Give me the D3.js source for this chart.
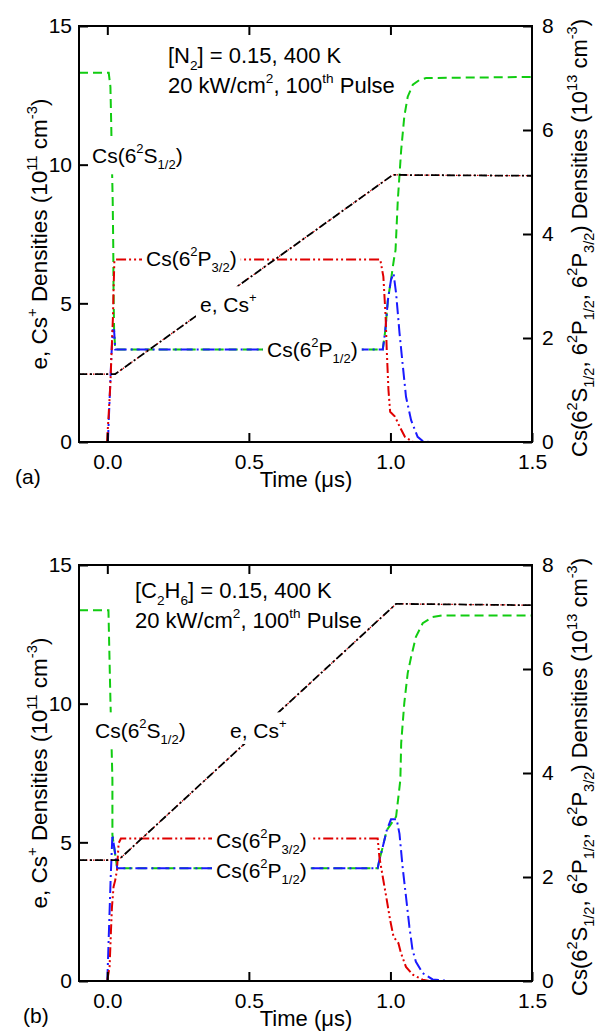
<!DOCTYPE html>
<html><head><meta charset="utf-8">
<script src="https://cdn.jsdelivr.net/npm/d3@7"></script>
<style>
html,body{margin:0;padding:0;background:#fff;}
svg text{font-family:"Liberation Sans",Arial,sans-serif;fill:#000;}
</style></head>
<body><svg id="c" width="597" height="1032"></svg>
<script>
// ---------------- data ----------------
const xTicks = [0, 0.5, 1.0, 1.5];
const leftTicks = [0, 5, 10, 15];
const rightTicks = [0, 2, 4, 6, 8];

// Panel (a): [N2]
// e, Cs+ density (left axis, 1e11 cm^-3): [time us, value]
const a_electron = [[-0.1,2.45],[0.028,2.45],[1.008,9.63],[1.5,9.6]];
// Cs densities (right axis, 1e13 cm^-3)
const a_S12 = [[-0.1,7.10],[0.005,7.10],[0.011,6.83],[0.014,6.06],[0.016,5.42],[0.019,4.65],[0.021,3.76],[0.022,2.9],[0.024,2.15],[0.028,1.78],[0.973,1.78],[0.982,2.15],[0.991,2.73],[1.002,3.12],[1.012,3.5],[1.018,3.69],[1.026,4.65],[1.038,5.62],[1.049,6.26],[1.061,6.64],[1.079,6.87],[1.102,6.96],[1.126,7.0],[1.5,7.02]];
const a_P12 = [[0.002,0],[0.008,0.8],[0.014,1.6],[0.019,2.15],[0.024,2.15],[0.028,1.78],[0.973,1.78],[0.982,2.15],[0.991,2.73],[1.002,3.12],[1.011,3.24],[1.020,2.86],[1.032,2.10],[1.044,1.45],[1.055,0.87],[1.073,0.42],[1.096,0.10],[1.114,0.02],[1.137,0]];
const a_P32 = [[-0.001,0],[0.005,0.55],[0.011,1.13],[0.014,1.58],[0.020,2.41],[0.022,2.92],[0.025,3.50],[0.028,3.51],[0.964,3.51],[0.975,3.18],[0.983,2.41],[0.987,1.77],[0.993,1.0],[0.999,0.58],[1.016,0.49],[1.033,0.29],[1.051,0.10],[1.080,0]];

// Panel (b): [C2H6]
const b_electron = [[-0.1,4.36],[0.039,4.36],[1.02,13.6],[1.5,13.55]];
const b_S12 = [[-0.1,7.13],[0.004,7.13],[0.011,5.4],[0.018,3.87],[0.018,2.81],[0.026,2.5],[0.035,2.17],[0.955,2.17],[0.961,2.33],[0.973,2.58],[0.987,2.90],[1.02,3.16],[1.035,3.87],[1.038,4.58],[1.049,5.35],[1.061,5.92],[1.073,6.23],[1.090,6.62],[1.114,6.88],[1.149,7.0],[1.184,7.03],[1.5,7.03]];
const b_P12 = [[0,0],[0.006,1.0],[0.012,2.0],[0.018,2.81],[0.025,2.55],[0.035,2.17],[0.955,2.17],[0.961,2.33],[0.973,2.58],[0.987,2.90],[1.002,3.11],[1.022,3.11],[1.032,2.83],[1.043,2.19],[1.055,1.62],[1.067,1.04],[1.078,0.60],[1.090,0.37],[1.114,0.15],[1.149,0.03],[1.208,0]];
const b_P32 = [[0,0.02],[0.008,0.27],[0.013,0.98],[0.0165,1.43],[0.022,1.81],[0.028,1.94],[0.034,2.13],[0.04,2.65],[0.048,2.74],[0.955,2.74],[0.961,2.38],[0.973,2.0],[0.987,1.56],[0.999,1.17],[1.011,0.85],[1.028,0.73],[1.037,0.54],[1.055,0.27],[1.079,0.12],[1.114,0.025],[1.137,0]];

const panelTitles = ["[N_{2}] = 0.15, 400 K", "[C_{2}H_{6}] = 0.15, 400 K"];
const titleLine2 = "20 kW/cm^{2}, 100^{th} Pulse";
const panelTags = ["(a)", "(b)"];
const xLabel = "Time (μs)";
const leftLabel = "e, Cs^{+} Densities (10^{11} cm^{-3})";
const rightLabel = "Cs(6^{2}S_{1/2}, 6^{2}P_{1/2}, 6^{2}P_{3/2}) Densities (10^{13} cm^{-3})";

// ---------------- drawing ----------------
const svg = d3.select("#c");
const FS = 21;     // curve labels, tick labels
const FT = 22;     // annotation text
const FA = 22.5;   // left axis title
const FR = 22;     // right axis title

function rich(sel, str, size, sc) {
  sc = sc || 0.62;
  const re = /(\^\{[^}]*\}|_\{[^}]*\}|[^^_]+)/g;
  let m;
  while ((m = re.exec(str)) !== null) {
    const tok = m[0];
    if (tok.startsWith("^{")) {
      sel.append("tspan").attr("font-size", size*sc).attr("baseline-shift", size*0.46).text(tok.slice(2,-1));
    } else if (tok.startsWith("_{")) {
      sel.append("tspan").attr("font-size", size*sc).attr("baseline-shift", -size*0.3).text(tok.slice(2,-1));
    } else {
      sel.append("tspan").text(tok);
    }
  }
  return sel;
}

const x = d3.scaleLinear().domain([-0.1, 1.5]).range([79, 532]);

const panels = [
  {top: 26, bottom: 442, e: a_electron, S: a_S12, P1: a_P12, P3: a_P32,
   labels: {S:[92,163], e:[200,312], P3:[146,266], P1:[267,357]}, tagX: 15},
  {top: 565, bottom: 981, e: b_electron, S: b_S12, P1: b_P12, P3: b_P32,
   labels: {S:[95,738], e:[230,738], P3:[216,848], P1:[216,878]}, tagX: 23}
];

panels.forEach((p, i) => {
  const g = svg.append("g");
  const yL = d3.scaleLinear().domain([0, 15]).range([p.bottom, p.top]);
  const yR = d3.scaleLinear().domain([0, 8]).range([p.bottom, p.top]);

  const clipId = "clip" + i;
  svg.append("clipPath").attr("id", clipId).append("rect")
    .attr("x", 79).attr("y", p.top).attr("width", 453).attr("height", p.bottom - p.top);

  const lines = g.append("g").attr("clip-path", `url(#${clipId})`);
  const lineR = d3.line().x(d => x(d[0])).y(d => yR(d[1]));
  const lineL = d3.line().x(d => x(d[0])).y(d => yL(d[1]));

  lines.append("path").attr("d", lineR(p.S)).attr("fill","none")
    .attr("stroke","#11cc11").attr("stroke-width",2).attr("stroke-dasharray","9,5");
  lines.append("path").attr("d", lineR(p.P1)).attr("fill","none")
    .attr("stroke","#1a1aff").attr("stroke-width",2).attr("stroke-dasharray","12,4,2,4");
  lines.append("path").attr("d", lineR(p.P3)).attr("fill","none")
    .attr("stroke","#e00000").attr("stroke-width",2).attr("stroke-dasharray","10,3,2,3,2,3");
  lines.append("path").attr("d", lineL(p.e)).attr("fill","none")
    .attr("stroke","#d00000").attr("stroke-width",1.2).attr("stroke-dasharray","1.5,2");
  lines.append("path").attr("d", lineL(p.e)).attr("fill","none")
    .attr("stroke","#000").attr("stroke-width",1.8).attr("stroke-dasharray","8,3,2,3");

  // curve labels with white masks (all masks first, then all texts)
  const lab = [
    ["S", "Cs(6^{2}S_{1/2})"],
    ["e", "e, Cs^{+}"],
    ["P3", "Cs(6^{2}P_{3/2})"],
    ["P1", "Cs(6^{2}P_{1/2})"]
  ];
  const maskG = g.append("g");
  const textG = g.append("g");
  lab.forEach(([k, s]) => {
    const [lx, ly] = p.labels[k];
    const t = textG.append("text").attr("x", lx).attr("y", ly).attr("font-size", FS);
    rich(t, s, FS);
    const bb = t.node().getBBox();
    maskG.append("rect").attr("fill", "#fff")
      .attr("x", bb.x - 4).attr("y", bb.y - 4).attr("width", bb.width + 8).attr("height", bb.height + 6);
  });

  // frame
  g.append("rect").attr("x", 79).attr("y", p.top).attr("width", 453).attr("height", p.bottom - p.top)
    .attr("fill","none").attr("stroke","#000").attr("stroke-width",2);

  // axes
  const styleAxis = a => { a.select(".domain").remove(); a.selectAll("line").attr("stroke-width",2); a.selectAll("text").attr("font-size",FS).attr("font-family",null); };
  g.append("g").attr("transform", `translate(79,0)`)
    .call(d3.axisLeft(yL).tickValues(leftTicks).tickSizeInner(-9).tickSizeOuter(0).tickPadding(7).tickFormat(d3.format("d")))
    .call(styleAxis);
  g.append("g").attr("transform", `translate(532,0)`)
    .call(d3.axisRight(yR).tickValues(rightTicks).tickSizeInner(-9).tickSizeOuter(0).tickPadding(10).tickFormat(d3.format("d")))
    .call(styleAxis);
  g.append("g").attr("transform", `translate(0,${p.bottom})`)
    .call(d3.axisBottom(x).tickValues(xTicks).tickSizeInner(-9).tickSizeOuter(0).tickPadding(12).tickFormat(d3.format(".1f")))
    .call(styleAxis);
  g.append("g").attr("transform", `translate(0,${p.top})`)
    .call(d3.axisTop(x).tickValues(xTicks.slice(0,3)).tickSizeInner(-9).tickSizeOuter(0).tickFormat(""))
    .call(styleAxis);

  // axis titles
  g.append("text").attr("x", 306).attr("y", p.bottom + 45).attr("text-anchor","middle").attr("font-size",FT).text(xLabel);
  rich(g.append("text").attr("transform", `translate(47,${(p.top+p.bottom)/2})rotate(-90)`).attr("text-anchor","middle").attr("font-size",FA), leftLabel, FA, 0.66);
  rich(g.append("text").attr("transform", `translate(587,${(p.top+p.bottom)/2 + 4})rotate(-90)`).attr("text-anchor","middle").attr("font-size",FR), rightLabel, FR, 0.66);

  // panel annotation
  const tx = i === 0 ? 168 : 135;
  rich(g.append("text").attr("x", tx).attr("y", p.top + (i===0?37:33)).attr("font-size",FT), panelTitles[i], FT);
  rich(g.append("text").attr("x", tx).attr("y", p.top + (i===0?67:63)).attr("font-size",FT), titleLine2, FT);
  g.append("text").attr("x", p.tagX).attr("y", p.bottom + 42).attr("font-size",FS).text(panelTags[i]);
});
</script></body></html>
